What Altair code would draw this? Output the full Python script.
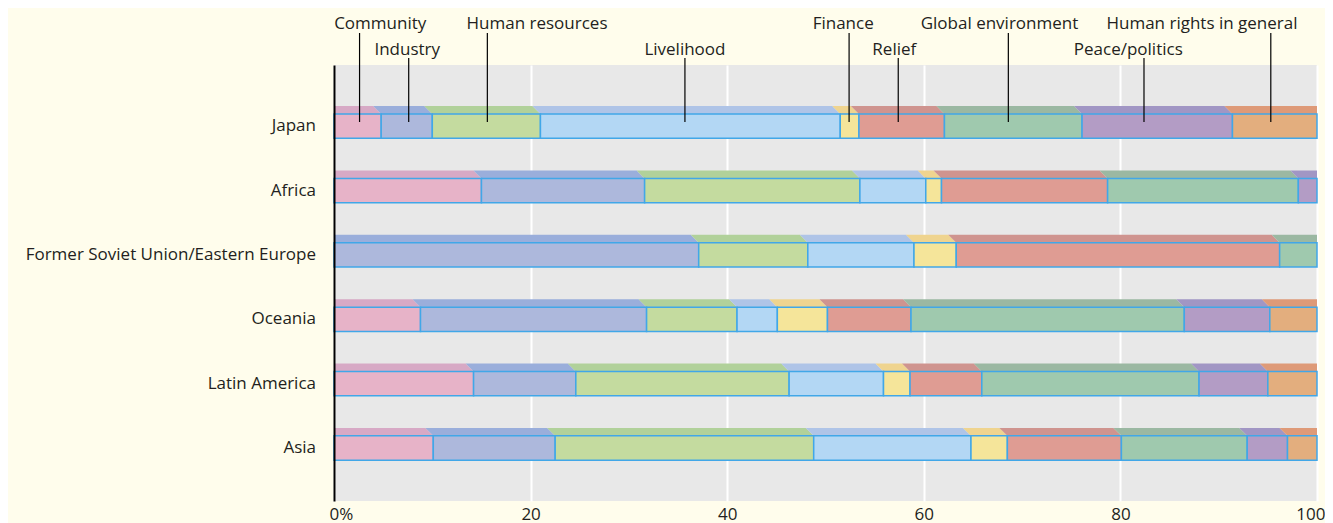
import altair as alt
import pandas as pd

regions = ["Japan", "Africa", "Former Soviet Union/Eastern Europe", "Oceania", "Latin America", "Asia"]
categories = ["Community", "Industry", "Human resources", "Livelihood", "Finance", "Relief",
              "Global environment", "Peace/politics", "Human rights in general"]

japan = [4.8, 5.2, 11.0, 30.5, 1.9, 8.7, 14.0, 15.3, 8.6]
africa = [15.0, 16.6, 21.9, 6.7, 1.6, 16.9, 19.4, 1.9, 0.0]
fsu = [0.0, 37.1, 11.1, 10.8, 4.3, 32.9, 3.8, 0.0, 0.0]
oceania = [8.8, 23.0, 9.2, 4.1, 5.1, 8.5, 27.8, 8.7, 4.8]
latin_america = [14.2, 10.4, 21.7, 9.6, 2.7, 7.3, 22.1, 7.0, 5.0]
asia = [10.1, 12.4, 26.3, 16.0, 3.7, 11.6, 12.8, 4.1, 3.0]
series = [japan, africa, fsu, oceania, latin_america, asia]

x_ticks = [0, 20, 40, 60, 80, 100]

# annotation labels above the chart (text anchor and leader line in % units)
label_text_x = [4.7, 7.45, 20.65, 35.7, 51.8, 57.0, 67.7, 80.8, 88.3]
label_line_x = [2.6, 7.6, 15.6, 35.7, 52.4, 57.4, 68.6, 82.4, 95.3]
label_tier = [1, 2, 1, 2, 1, 2, 1, 2, 1]

front_colors = ["#E7B3C8", "#ADB8DC", "#C4DB9F", "#B3D7F4", "#F5E59A",
                "#DF9C93", "#9FC9AE", "#B39CC5", "#E3AE7E"]
top_colors = ["#D7A9C5", "#9AAEDB", "#B1D19A", "#AFC4E7", "#EFD48F",
              "#CF948F", "#9BB8A2", "#A196C4", "#DE9A78"]

# ---- geometry helpers (scale units) ----
Y_DOMAIN = 6.774
ROW0 = 0.951
HALF = 0.189
DEPTH_Y = 0.124
DEPTH_X = 0.81

front_rows, top_rows, label_rows = [], [], []
for i, (reg, vals) in enumerate(zip(regions, series)):
    yc = ROW0 + i
    label_rows.append({"region": reg, "yc": yc})
    start = 0.0
    for cat, v in zip(categories, vals):
        end = start + v
        if v > 0:
            seg = f"{reg}|{cat}"
            front_rows.append({"region": reg, "category": cat, "start": start, "end": end,
                               "y1": yc - HALF, "y2": yc + HALF, "value": v})
            ds = DEPTH_X if start > 0.01 else 0.0
            de = DEPTH_X if end < 99.95 else 0.0
            top_rows.append({"seg": seg, "category": cat, "y": yc - HALF, "xa": start, "xb": end})
            top_rows.append({"seg": seg, "category": cat, "y": yc - HALF - DEPTH_Y,
                             "xa": start - ds, "xb": end - de})
        start = end

front_df = pd.DataFrame(front_rows)
top_df = pd.DataFrame(top_rows)
label_df = pd.DataFrame(label_rows)
ann_df = pd.DataFrame({"label": categories, "tx": label_text_x, "lx": label_line_x, "tier": label_tier})

FONT = "Open Sans"
TXT = "#231F20"
FS = 17

xscale = alt.Scale(domain=[0, 100], nice=False, zero=False)
yscale = alt.Scale(domain=[0, Y_DOMAIN], nice=False, zero=False, reverse=True)

x_axis = alt.Axis(
    values=x_ticks, grid=True, gridColor="white", gridWidth=2,
    domain=False, ticks=False, tickSize=0, labelPadding=5,
    labelFont=FONT, labelFontSize=FS, labelColor=TXT,
    labelExpr="datum.value == 0 ? '0%' : datum.label",
    labelAlign={"condition": {"test": "datum.value == 100", "value": "right"}, "value": "center"},
    labelOffset={"condition": [{"test": "datum.value == 0", "value": 7},
                               {"test": "datum.value == 100", "value": 8}], "value": 0},
    title=None,
)
y_axis = alt.Axis(labels=False, ticks=False, grid=False, domain=True,
                  domainColor="black", domainWidth=2, zindex=1, title=None)


def X(field):
    return alt.X(field, scale=xscale, axis=x_axis, stack=None)


def Y(field):
    return alt.Y(field, scale=yscale, axis=y_axis)


tops = alt.Chart(top_df).mark_area(orient="horizontal", clip=True).encode(
    y=Y("y:Q"),
    x=X("xa:Q"),
    x2="xb:Q",
    detail="seg:N",
    color=alt.Color("category:N", scale=alt.Scale(domain=categories, range=top_colors), legend=None),
)

fronts = alt.Chart(front_df).mark_rect(stroke="#41A7E8", strokeWidth=1.5).encode(
    x=X("start:Q"),
    x2="end:Q",
    y=Y("y1:Q"),
    y2="y2:Q",
    color=alt.Color("category:N", scale=alt.Scale(domain=categories, range=front_colors), legend=None),
    tooltip=["region:N", "category:N", "value:Q"],
)

region_labels = alt.Chart(label_df).mark_text(
    align="right", baseline="middle", font=FONT, fontSize=FS, color=TXT
).encode(
    x=alt.value(-18),
    y=Y("yc:Q"),
    text="region:N",
)

ann_text1 = alt.Chart(ann_df).transform_filter("datum.tier == 1").mark_text(
    align="center", baseline="alphabetic", font=FONT, fontSize=FS, color=TXT
).encode(x=X("tx:Q"), y=alt.value(-35.7), text="label:N")

ann_text2 = alt.Chart(ann_df).transform_filter("datum.tier == 2").mark_text(
    align="center", baseline="alphabetic", font=FONT, fontSize=FS, color=TXT
).encode(x=X("tx:Q"), y=alt.value(-10.5), text="label:N")

ann_line1 = alt.Chart(ann_df).transform_filter("datum.tier == 1").mark_rule(
    color="black", strokeWidth=1.2
).encode(x=X("lx:Q"), y=alt.value(-32), y2=alt.value(57))

ann_line2 = alt.Chart(ann_df).transform_filter("datum.tier == 2").mark_rule(
    color="black", strokeWidth=1.2
).encode(x=X("lx:Q"), y=alt.value(-7), y2=alt.value(57))

chart = alt.layer(
    tops, fronts, ann_line1, ann_line2, ann_text1, ann_text2, region_labels
).resolve_scale(color="independent").properties(
    width=983, height=436,
    autosize=alt.AutoSizeParams(type="none"),
    padding={"left": 326, "top": 57, "right": 8, "bottom": 30},
    background="#FFFDEC",
).configure_view(fill="#E8E8E8", stroke=None)

chart.save("out.html", embed_options={"renderer": "svg", "actions": False})
